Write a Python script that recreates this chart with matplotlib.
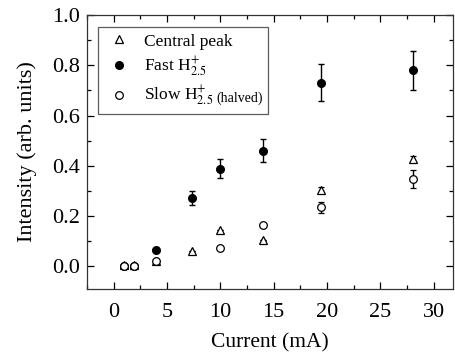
import matplotlib
matplotlib.use('Agg')
import matplotlib.pyplot as plt
from matplotlib.ticker import MultipleLocator, FormatStrFormatter

plt.rcParams['font.family'] = ['Liberation Serif', 'DejaVu Serif']
plt.rcParams['mathtext.fontset'] = 'stix'

# current (mA)
current = [1.0, 1.9, 4.0, 7.3, 10.0, 14.0, 19.4, 28.1]

# central peak (triangles)
central = [0.005, 0.005, 0.02, 0.06, 0.143, 0.105, 0.304, 0.428]
central_err = [0, 0, 0, 0, 0, 0, 0.01, 0.012]

# fast H2.5+ (filled circles)
fast = [0.0, 0.0, 0.064, 0.272, 0.388, 0.46, 0.731, 0.78]
fast_err = [0, 0, 0, 0.026, 0.038, 0.045, 0.073, 0.078]

# slow H2.5+ halved (open circles), no point at 7.3 mA
slow_x = [1.0, 1.9, 4.0, 10.0, 14.0, 19.4, 28.1]
slow = [0.0, 0.0, 0.02, 0.075, 0.164, 0.235, 0.348]
slow_err = [0, 0, 0, 0, 0, 0.023, 0.035]

W, H = 4.56, 3.56
fig = plt.figure(figsize=(W, H), dpi=100)
ax = fig.add_axes([0.191, 0.188, 0.802, 0.770])

ekw = dict(ecolor='black', elinewidth=1, capsize=2.5, capthick=1, linestyle='none')
h1 = ax.errorbar(current, central, yerr=central_err, fmt='^', ms=5.5,
                 mfc='white', mec='black', mew=0.9, **ekw)
h2 = ax.errorbar(current, fast, yerr=fast_err, fmt='o', ms=5.5,
                 mfc='black', mec='black', **ekw)
h3 = ax.errorbar(slow_x, slow, yerr=slow_err, fmt='o', ms=5.5,
                 mfc='white', mec='black', mew=0.9, **ekw)

ax.set_xlim(-2.5, 31.8)
ax.set_ylim(-0.09, 1.0)
ax.xaxis.set_major_locator(MultipleLocator(5))
ax.xaxis.set_minor_locator(MultipleLocator(2.5))
ax.yaxis.set_major_locator(MultipleLocator(0.2))
ax.yaxis.set_minor_locator(MultipleLocator(0.1))
ax.yaxis.set_major_formatter(FormatStrFormatter('%.1f'))
ax.tick_params(which='both', direction='in', top=True, right=True,
               labelsize=16, width=0.9, colors='black')
ax.tick_params(which='major', length=5)
ax.tick_params(axis='x', which='major', pad=10)
ax.tick_params(axis='y', which='major', pad=5)
ax.tick_params(which='minor', length=3)
for s in ax.spines.values():
    s.set_linewidth(0.9)
    s.set_color('#333333')

ax.set_xlabel('Current (mA)', fontsize=15.5, labelpad=8)
ax.set_ylabel('Intensity (arb. units)', fontsize=16, labelpad=11)

# "(halved)" is drawn after the legend entry in a smaller size; spaces make room
labels = ['Central peak', r'Fast H$^{+}_{2.5}$', r'Slow H$^{+}_{2.5}$' + ' ' * 12]
leg = ax.legend([h1[0], h2[0], h3[0]], labels, loc='upper left', fontsize=12.5,
                fancybox=False, frameon=True, edgecolor='#333333',
                borderpad=0.35, labelspacing=0.3, handlelength=1.7,
                handletextpad=0.6, borderaxespad=0,
                bbox_to_anchor=(0.029, 0.955))
leg.get_frame().set_linewidth(0.9)

fig.canvas.draw()
r = fig.canvas.get_renderer()
slow_txt = leg.get_texts()[2]
plain = ax.text(0, 0, r'Slow H$^{+}_{2.5}$', fontsize=12.5)
bb_plain = plain.get_window_extent(r)
plain.remove()
bb = slow_txt.get_window_extent(r)
fig.text((bb.x0 + bb_plain.width + 3) / fig.dpi / W,
         (bb.y0 + 3.5) / fig.dpi / H, '(halved)', fontsize=10,
         ha='left', va='bottom')

fig.savefig('out.png', dpi=100)
